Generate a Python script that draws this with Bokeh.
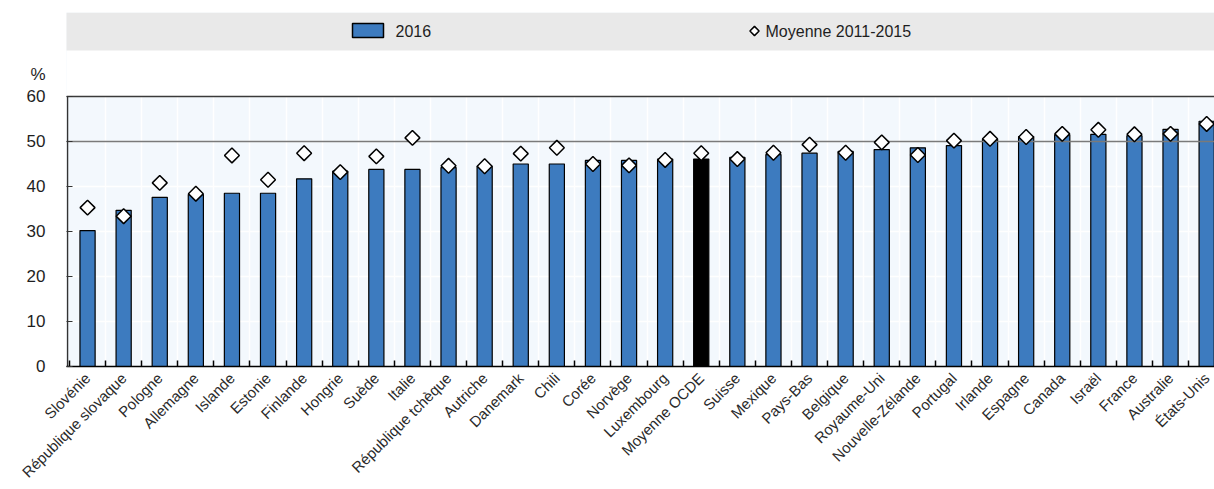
import math
from bokeh.plotting import figure
from bokeh.models import Range1d, FixedTicker, ColumnDataSource
from bokeh.core.properties import value
from bokeh.embed import file_html
from bokeh.resources import INLINE

countries = ["Slovénie", "République slovaque", "Pologne", "Allemagne", "Islande", "Estonie",
             "Finlande", "Hongrie", "Suède", "Italie", "République tchèque", "Autriche",
             "Danemark", "Chili", "Corée", "Norvège", "Luxembourg", "Moyenne OCDE", "Suisse",
             "Mexique", "Pays-Bas", "Belgique", "Royaume-Uni", "Nouvelle-Zélande", "Portugal",
             "Irlande", "Espagne", "Canada", "Israël", "France", "Australie", "États-Unis"]
values_2016 = [30.2, 34.7, 37.6, 38.2, 38.5, 38.5, 41.7, 43.4, 43.8, 43.8, 44.2, 44.5,
               45.0, 45.0, 45.8, 45.8, 46.1, 46.1, 46.5, 47.1, 47.4, 47.8, 48.2, 48.6,
               49.1, 50.6, 51.1, 51.5, 51.6, 51.3, 52.7, 54.5]
values_avg = [35.3, 33.4, 40.8, 38.4, 46.9, 41.5, 47.4, 43.2, 46.7, 50.8, 44.6, 44.5,
              47.3, 48.6, 45.0, 44.7, 45.9, 47.4, 46.1, 47.5, 49.3, 47.5, 49.8, 47.0,
              50.2, 50.6, 51.0, 51.7, 52.6, 51.6, 51.7, 53.9]
y_ticks = [0, 10, 20, 30, 40, 50, 60]
y_max = 60
reference_level = 50
highlight = "Moyenne OCDE"
series_names = ["2016", "Moyenne 2011-2015"]
unit_label = "%"
unit_label_pos = 65

FONT = "Liberation Sans"
BLUE = "#3D7BBF"
TEXT = "#1e1e1e"

# ---- layout geometry (pixels) ----
W, H = 1214, 489
FRAME_L, FRAME_T, FRAME_B = 66, 12, 366
PX_PER_CAT = 36.1
PX_PER_UNIT = 4.5
X0 = -0.583
X1 = X0 + (W - FRAME_L) / PX_PER_CAT
Y1 = (FRAME_B - FRAME_T) / PX_PER_UNIT


def dx(page_x):
    return X0 + (page_x - FRAME_L) / PX_PER_CAT


def dy(page_y):
    return (FRAME_B - page_y) / PX_PER_UNIT


n = len(countries)
xs = list(range(n))
src = ColumnDataSource(dict(
    x=xs, v=values_2016, avg=values_avg,
    color=["#000000" if c == highlight else BLUE for c in countries],
))

p = figure(width=W, height=H, x_range=Range1d(X0, X1), y_range=Range1d(0, Y1),
           output_backend="svg", toolbar_location=None,
           min_border_left=FRAME_L, min_border_right=0, min_border_top=FRAME_T,
           min_border_bottom=H - FRAME_B)
p.background_fill_color = "#F3F8FD"
p.border_fill_color = "white"
p.outline_line_color = None

# x axis: labels at category centres, short inside ticks at category boundaries
p.xaxis.ticker = FixedTicker(ticks=xs, minor_ticks=[i + 0.5 for i in range(-1, n)])
p.xaxis.major_label_overrides = {i: c for i, c in enumerate(countries)}
p.xaxis.major_label_orientation = math.pi / 4
p.xaxis.major_tick_line_color = None
p.xaxis.minor_tick_in = 6
p.xaxis.minor_tick_out = 0
p.xaxis.minor_tick_line_color = "black"
p.xaxis.minor_tick_line_width = 1.5
p.xaxis.axis_line_color = "black"
p.xaxis.axis_line_width = 1.5
p.xaxis.major_label_text_font = FONT
p.xaxis.major_label_text_font_size = "15px"
p.xaxis.major_label_text_color = "#2a2a2a"
p.xaxis.major_label_standoff = 3

# y axis: numbers plus the "%" unit above them
p.yaxis.ticker = FixedTicker(ticks=y_ticks + [unit_label_pos], minor_ticks=y_ticks)
p.yaxis.major_label_overrides = {unit_label_pos: unit_label}
p.yaxis.major_tick_line_color = None
p.yaxis.minor_tick_in = 6
p.yaxis.minor_tick_out = 0
p.yaxis.minor_tick_line_color = "#333333"
p.yaxis.minor_tick_line_width = 1.2
p.yaxis.axis_line_color = None
p.yaxis.major_label_text_font = FONT
p.yaxis.major_label_text_font_size = "17px"
p.yaxis.major_label_text_color = TEXT
p.yaxis.major_label_standoff = 15

p.xgrid.ticker = FixedTicker(ticks=[i + 0.5 for i in range(n - 1)])
p.xgrid.grid_line_color = "white"
p.xgrid.grid_line_width = 1.5
p.ygrid.ticker = FixedTicker(ticks=y_ticks)
p.ygrid.grid_line_color = "white"
p.ygrid.grid_line_width = 1.5

# white area above the plot region (header)
p.quad(left=[X0], right=[X1], bottom=[y_max], top=[Y1], fill_color="white", line_color=None)

p.vbar(x="x", top="v", width=0.42, source=src, fill_color="color",
       line_color="black", line_width=1.2)
p.hspan(y=[reference_level], line_color="#7a7a7a", line_width=1.5)
p.scatter(x="x", y="avg", source=src, marker="square", angle=math.pi / 4, size=10.5,
          fill_color="white", line_color="black", line_width=1.5)

# plot-area border (top and left)
p.hspan(y=[y_max], line_color="#3a3a3a", line_width=1.5)
p.segment(x0=[dx(67)], y0=[0], x1=[dx(67)], y1=[y_max], line_color="#333333", line_width=1.5)

# legend band
p.quad(left=[dx(60)], right=[X1], bottom=[dy(50)], top=[dy(12)],
       fill_color="#E9E9E9", line_color=None)
p.quad(left=[dx(352)], right=[dx(383)], bottom=[dy(37)], top=[dy(23)],
       fill_color=BLUE, line_color="black", line_width=1.5)
p.text(x=[dx(395)], y=[dy(30.5)], text=[series_names[0]], text_baseline="middle",
       text_font=value(FONT), text_font_size="16px", text_color=TEXT)
p.scatter(x=[dx(754)], y=[dy(30.5)], marker="square", angle=math.pi / 4, size=6.5,
          fill_color="white", line_color="black", line_width=1.5)
p.text(x=[dx(765)], y=[dy(30.5)], text=[series_names[1]], text_baseline="middle",
       text_font=value(FONT), text_font_size="16px", text_color=TEXT)

open("out.html", "w").write(file_html(p, INLINE))
